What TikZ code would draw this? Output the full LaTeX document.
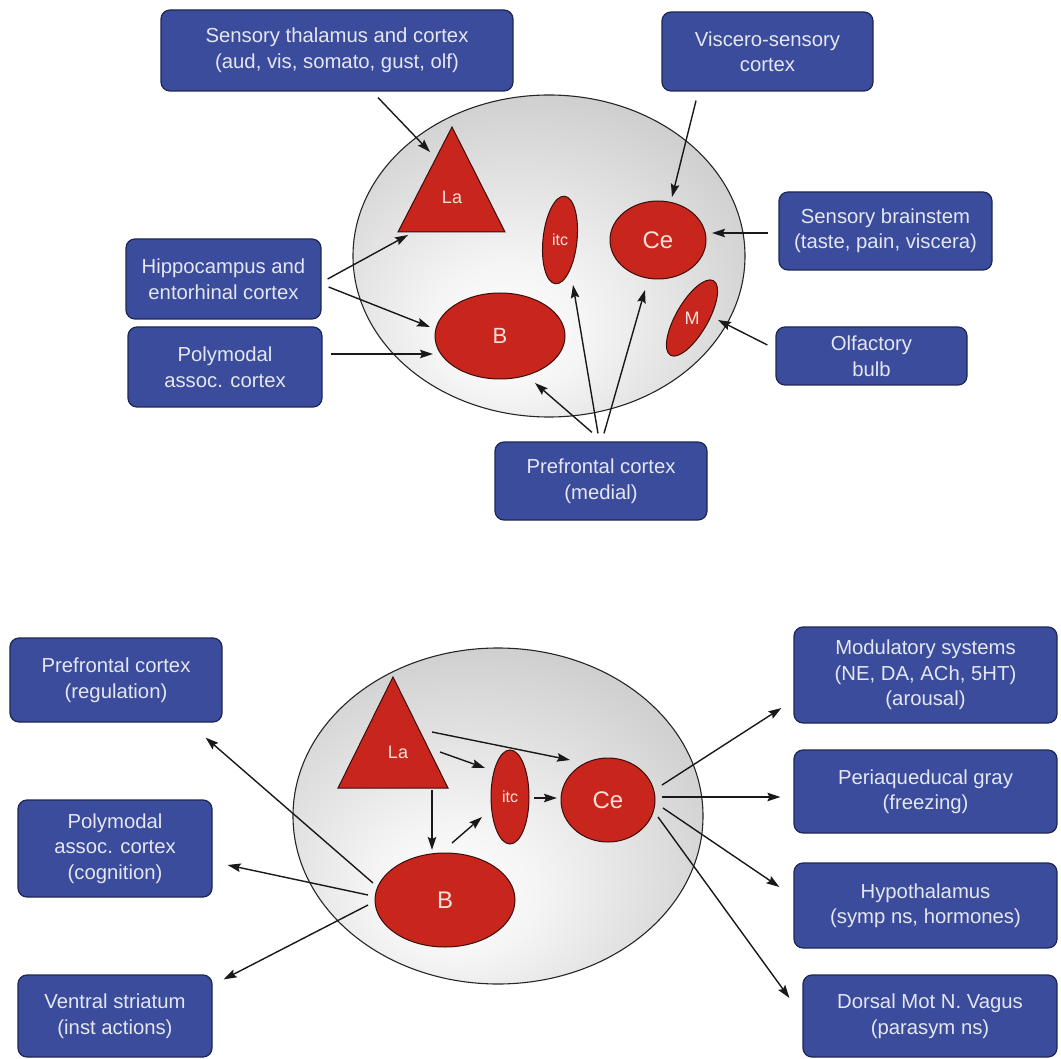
\documentclass[tikz,border=0pt]{standalone}
\usepackage{fontspec}
\setmainfont{Liberation Sans}
\usetikzlibrary{shapes.geometric,arrows.meta,calc}
\definecolor{boxblue}{RGB}{58,76,155}
\definecolor{boxedge}{RGB}{30,38,84}
\definecolor{boxtext}{RGB}{228,230,240}
\definecolor{nucred}{RGB}{200,38,28}
\definecolor{nucedge}{RGB}{60,12,10}
\definecolor{nuctext}{RGB}{250,225,220}
\pgfdeclareradialshading{amygshade}{\pgfpoint{-6bp}{-13bp}}{color(0bp)=(white); color(10bp)=(white!96!black); color(38bp)=(black!22); color(56bp)=(black!38); color(80bp)=(black!42)}
\tikzset{
  box/.style={draw=boxedge, fill=boxblue, rounded corners=9pt, line width=1.2pt,
    text=boxtext, align=center, inner sep=0pt, font=\fontsize{20.3}{25.5}\selectfont},
  amyg/.style={ellipse, draw=black!85, line width=1.1pt, shading=amygshade, inner sep=0pt},
  nuc/.style={fill=nucred, draw=nucedge, line width=1pt},
  nucell/.style={ellipse, nuc, inner sep=0pt},
  lbl/.style={text=nuctext, inner sep=0pt},
  arr/.style={-{Stealth[length=13pt,width=8.5pt,inset=2pt]}, line width=1.4pt, black!90}
}
\begin{document}
\begin{tikzpicture}[x=1pt,y=-1pt]
\useasboundingbox (0,0) rectangle (1061,1059);
% ================= TOP =================
\node[amyg, minimum width=392pt, minimum height=322pt] (amyA) at (549,256) {};
\filldraw[nuc] (452,127) -- (398,232) -- (505,232) -- cycle;
\node[lbl, font=\fontsize{18}{18}\selectfont] (la) at (452,197) {La};
\node[nucell, minimum width=34pt, minimum height=88pt, rotate=-6] (itc) at (560,240) {};
\node[lbl, font=\fontsize{16}{16}\selectfont] (itcl) at (560,240) {itc};
\node[nucell, minimum width=96pt, minimum height=78pt] (ce) at (658,240) {};
\node[lbl, font=\fontsize{24}{24}\selectfont] (cel) at (658,240) {Ce};
\node[nucell, minimum width=130pt, minimum height=86pt] (b) at (500,336) {};
\node[lbl, font=\fontsize{22}{22}\selectfont] (bl) at (500,336) {B};
\node[nucell, minimum width=32pt, minimum height=86pt, rotate=-30] (m) at (692,318) {};
\node[lbl, font=\fontsize{18}{18}\selectfont] (ml) at (692,318) {M};

\node[box, minimum width=352pt, minimum height=81pt] (thal) at (337,50.5) {Sensory thalamus and cortex\\(aud, vis, somato, gust, olf)};
\node[box, minimum width=211pt, minimum height=79pt] (visc) at (767.5,51.5) {Viscero-sensory\\cortex};
\node[box, minimum width=195pt, minimum height=80pt] (hippo) at (223.5,279) {Hippocampus and\\entorhinal cortex};
\node[box, minimum width=194pt, minimum height=80pt] (poly) at (225,367) {Polymodal\\assoc. cortex};
\node[box, minimum width=213pt, minimum height=78pt] (brain) at (885.5,231) {Sensory brainstem\\(taste, pain, viscera)};
\node[box, minimum width=191pt, minimum height=58pt] (olf) at (871.5,356) {Olfactory\\bulb};
\node[box, minimum width=212pt, minimum height=78pt] (pfcm) at (601,481) {Prefrontal cortex\\(medial)};

\draw[arr] ($(thal.south)+(41,6)$) -- ($(la)+(-22,-45)$);
\draw[arr] ($(hippo.east)+(6,0)$) -- ($(la)+(-44,38)$);
\draw[arr] ($(hippo.east)+(7,8)$) -- ($(b)+(-70,-9)$);
\draw[arr] ($(poly.east)+(8,-13)$) -- ($(b)+(-67,18)$);
\draw[arr] ($(visc.south)+(-71.5,9)$) -- ($(ce)+(14,-43)$);
\draw[arr] ($(brain.west)+(-10,2)$) -- ($(ce)+(54,-7)$);
\draw[arr] ($(olf.west)+(-8,-11)$) -- ($(m)+(26,2)$);
\draw[arr] ($(pfcm.north)+(-9,-9)$) -- ($(b)+(35,47)$);
\draw[arr] ($(pfcm.north)+(-3,-8)$) -- ($(itc)+(13,45)$);
\draw[arr] ($(pfcm.north)+(3,-8)$) -- ($(ce)+(-13,50)$);

% ================= BOTTOM =================
\node[amyg, minimum width=410pt, minimum height=336pt] (amyB) at (498,816) {};
\filldraw[nuc] (393,677) -- (338,788) -- (448,788) -- cycle;
\node[lbl, font=\fontsize{18}{18}\selectfont] (la2) at (398,752) {La};
\node[nucell, minimum width=38pt, minimum height=94pt] (itc2) at (510,797) {};
\node[lbl, font=\fontsize{16}{16}\selectfont] (itc2l) at (510,797) {itc};
\node[nucell, minimum width=94pt, minimum height=84pt] (ce2) at (608,800) {};
\node[lbl, font=\fontsize{24}{24}\selectfont] (ce2l) at (608,800) {Ce};
\node[nucell, minimum width=140pt, minimum height=94pt] (b2) at (445,900) {};
\node[lbl, font=\fontsize{24}{24}\selectfont] (b2l) at (445,900) {B};

\node[box, minimum width=212pt, minimum height=84pt] (pfcr) at (116,680) {Prefrontal cortex\\(regulation)};
\node[box, minimum width=194pt, minimum height=97pt] (polyc) at (115,848.5) {Polymodal\\assoc. cortex\\(cognition)};
\node[box, minimum width=194pt, minimum height=82pt] (vs) at (115,1016) {Ventral striatum\\(inst actions)};
\node[box, minimum width=263pt, minimum height=96pt] (mod) at (925.5,675) {Modulatory systems\\(NE, DA, ACh, 5HT)\\(arousal)};
\node[box, minimum width=263pt, minimum height=83pt] (pag) at (925.5,791.5) {Periaqueducal gray\\(freezing)};
\node[box, minimum width=263pt, minimum height=85pt] (hyp) at (925.5,905.5) {Hypothalamus\\(symp ns, hormones)};
\node[box, minimum width=254pt, minimum height=82pt] (dmv) at (930,1016) {Dorsal Mot N. Vagus\\(parasym ns)};

\draw[arr] ($(la2)+(34,-20)$) -- ($(ce2)+(-38,-40)$);
\draw[arr] ($(la2)+(42,0)$) -- ($(itc2)+(-25,-29)$);
\draw[arr] ($(itc2)+(24,1)$) -- ($(ce2)+(-51,-2)$);
\draw[arr] ($(la2)+(34,38)$) -- ($(b2)+(-13,-50)$);
\draw[arr] ($(b2)+(7,-57)$) -- ($(itc2)+(-28,20)$);
\draw[arr] ($(b2)+(-72,-17)$) -- ($(pfcr.south east)+(-17,15)$);
\draw[arr] ($(b2)+(-77,-5)$) -- ($(polyc.east)+(15,16.5)$);
\draw[arr] ($(b2)+(-77,5)$) -- ($(vs.north east)+(11,5)$);
\draw[arr] ($(ce2)+(54,-15)$) -- ($(mod.west)+(-12,33)$);
\draw[arr] ($(ce2)+(54,-3)$) -- ($(pag.west)+(-13,5.5)$);
\draw[arr] ($(ce2)+(55,8)$) -- ($(hyp.west)+(-14,-18.5)$);
\draw[arr] ($(ce2)+(50,17)$) -- ($(dmv.west)+(-13,-18)$);
\end{tikzpicture}
\end{document}
